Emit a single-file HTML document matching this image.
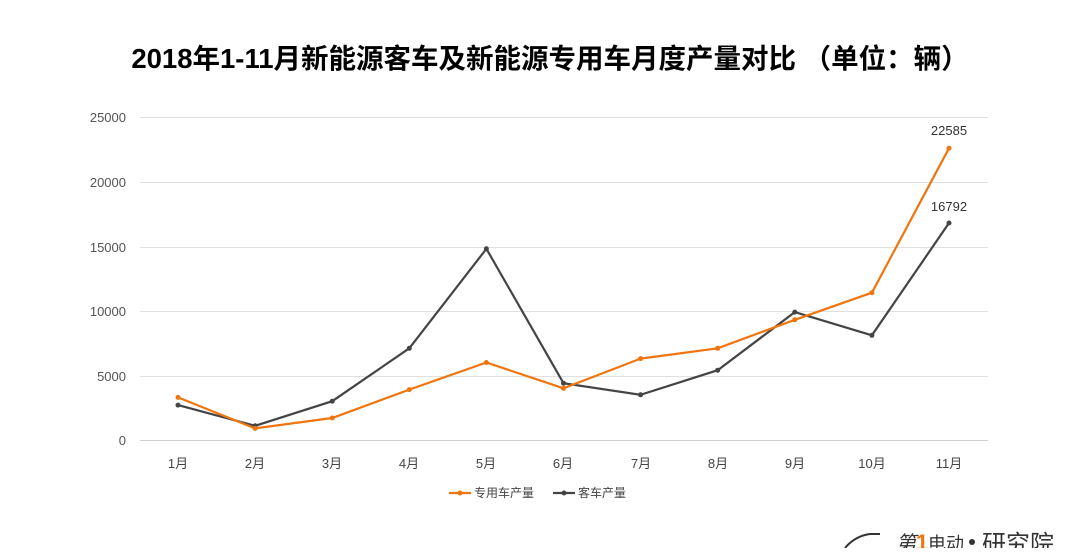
<!DOCTYPE html><html><head><meta charset="utf-8"><style>body{margin:0;background:#fff}</style></head><body>
<svg width="1080" height="548" xmlns="http://www.w3.org/2000/svg" font-family="Liberation Sans, Noto Sans CJK SC, sans-serif">
<text x="550" y="68" text-anchor="middle" font-size="27.5" font-weight="bold" fill="#000">2018年1-11月新能源客车及新能源专用车月度产量对比 （单位：辆）</text>
<g stroke="#e0e0e0" stroke-width="1">
<line x1="140" x2="988" y1="117.5" y2="117.5"/><line x1="140" x2="988" y1="182.5" y2="182.5"/><line x1="140" x2="988" y1="247.5" y2="247.5"/><line x1="140" x2="988" y1="311.5" y2="311.5"/><line x1="140" x2="988" y1="376.5" y2="376.5"/></g>
<line x1="140" x2="988" y1="440.5" y2="440.5" stroke="#cfcfcf"/>
<g font-size="13" fill="#555" text-anchor="end">
<text x="126" y="122">25000</text><text x="126" y="187">20000</text><text x="126" y="252">15000</text><text x="126" y="316">10000</text><text x="126" y="381">5000</text><text x="126" y="445">0</text></g>
<g font-size="13" fill="#444" text-anchor="middle">
<text x="178" y="468">1月</text><text x="255" y="468">2月</text><text x="332" y="468">3月</text><text x="409" y="468">4月</text><text x="486" y="468">5月</text><text x="563" y="468">6月</text><text x="641" y="468">7月</text><text x="718" y="468">8月</text><text x="795" y="468">9月</text><text x="872" y="468">10月</text><text x="949" y="468">11月</text></g>
<polyline fill="none" stroke="#444" stroke-width="2.2" points="178,405.1 255.1,425.8 332.2,401.2 409.3,348.3 486.4,248.8 563.5,383.2 640.6,394.8 717.7,370.2 794.8,312.1 871.9,335.3 949,223"/>
<polyline fill="none" stroke="#f0750f" stroke-width="2.2" points="178,397.4 255.1,428.4 332.2,418 409.3,389.6 486.4,362.5 563.5,388.3 640.6,358.6 717.7,348.3 794.8,319.8 871.9,292.7 949,148.2"/>
<g fill="#444"><circle cx="178" cy="405.1" r="2.5"/><circle cx="255.1" cy="425.8" r="2.5"/><circle cx="332.2" cy="401.2" r="2.5"/><circle cx="409.3" cy="348.3" r="2.5"/><circle cx="486.4" cy="248.8" r="2.5"/><circle cx="563.5" cy="383.2" r="2.5"/><circle cx="640.6" cy="394.8" r="2.5"/><circle cx="717.7" cy="370.2" r="2.5"/><circle cx="794.8" cy="312.1" r="2.5"/><circle cx="871.9" cy="335.3" r="2.5"/><circle cx="949" cy="223" r="2.5"/></g>
<g fill="#f0750f"><circle cx="178" cy="397.4" r="2.5"/><circle cx="255.1" cy="428.4" r="2.5"/><circle cx="332.2" cy="418" r="2.5"/><circle cx="409.3" cy="389.6" r="2.5"/><circle cx="486.4" cy="362.5" r="2.5"/><circle cx="563.5" cy="388.3" r="2.5"/><circle cx="640.6" cy="358.6" r="2.5"/><circle cx="717.7" cy="348.3" r="2.5"/><circle cx="794.8" cy="319.8" r="2.5"/><circle cx="871.9" cy="292.7" r="2.5"/><circle cx="949" cy="148.2" r="2.5"/></g>
<g font-size="13" fill="#333" text-anchor="middle"><text x="949" y="135">22585</text><text x="949" y="211">16792</text></g>
<line x1="449" x2="471" y1="493" y2="493" stroke="#f0750f" stroke-width="2.2"/><circle cx="460" cy="493" r="2.5" fill="#f0750f"/>
<text x="474" y="497" font-size="12" fill="#444">专用车产量</text>
<line x1="553" x2="575" y1="493" y2="493" stroke="#444" stroke-width="2.2"/><circle cx="564" cy="493" r="2.5" fill="#444"/>
<text x="578" y="497" font-size="12" fill="#444">客车产量</text>
<path d="M845 548 Q855 536 870 534 L880 534" fill="none" stroke="#333" stroke-width="2"/>
<text x="896" y="550" font-size="20" fill="#333" font-style="italic">第</text>
<text x="916" y="550" font-size="22" fill="#f0750f" font-weight="bold">1</text>
<text x="928" y="550" font-size="18" fill="#333">电动</text>
<circle cx="972" cy="542" r="3" fill="#333"/>
<text x="982" y="552" font-size="24" fill="#333">研究院</text>
</svg></body></html>
